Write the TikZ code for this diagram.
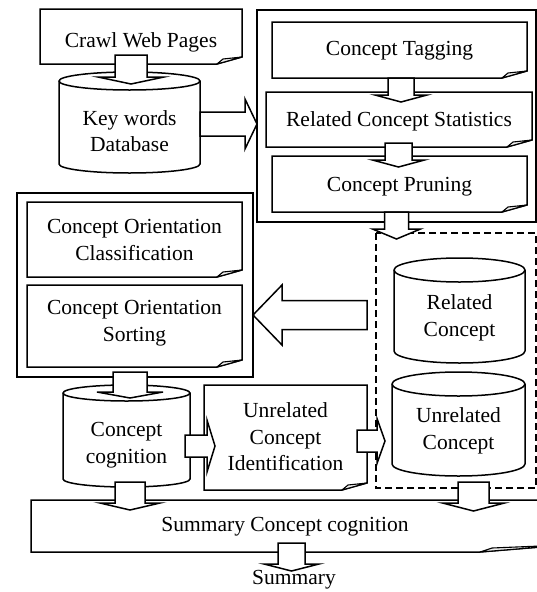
\documentclass[tikz,border=0pt]{standalone}
\usepackage{fontspec}
\setmainfont{Liberation Serif}
\tikzset{
  every node/.style={font=\fontsize{21.5}{26.5}\selectfont, align=center, inner sep=0pt},
  shp/.style={draw, fill=white, line width=1.5pt, line join=miter},
  fold/.style={draw, fill=gray!12, line width=1.1pt, line join=round},
  dashbox/.style={draw, line width=1.5pt, dash pattern=on 7pt off 4pt},
  blk/.style={draw, fill=white, line width=1.5pt, line join=miter}
}
% note box: name, x1, y1, x2, y2, text-y, text
\newcommand{\notebox}[7]{%
  \draw[shp] (#2,#3) -- (#4,#3) -- (#4,#5-7) -- (#4-25,#5) -- (#2,#5) -- cycle;
  \draw[fold] (#4-25,#5) -- (#4-19,#5-5) -- (#4,#5-7) -- cycle;
  \node (#1) at ({(#2+#4)/2},#6) {#7};
}
% cylinder: name, x1, ytop, x2, ybottom, ry, text-y, text
\newcommand{\cylbox}[8]{%
  \pgfmathsetmacro\cylcx{(#2+#4)/2}\pgfmathsetmacro\cylrx{(#4-#2)/2}%
  \draw[shp] (#2,#3+#6) -- (#2,#5-#6)
     arc[start angle=180,end angle=360,x radius=\cylrx pt,y radius=#6pt]
     -- (#4,#3+#6)
     arc[start angle=0,end angle=180,x radius=\cylrx pt,y radius=#6pt] -- cycle;
  \draw[line width=1.5pt] (#2,#3+#6) arc[start angle=180,end angle=360,x radius=\cylrx pt,y radius=#6pt];
  \node (#1) at (\cylcx,#7) {#8};
}
% block arrow down: cx, ytop, ybase, ytip, shaft half, head half
\newcommand{\blkdown}[6]{%
  \draw[blk] (#1-#5,#2) -- (#1+#5,#2) -- (#1+#5,#3) -- (#1+#6,#3) -- (#1,#4)
     -- (#1-#6,#3) -- (#1-#5,#3) -- cycle;}
% block arrow horizontal: cy, xstart, xbase, xtip, shaft half, head half
\newcommand{\blkside}[6]{%
  \draw[blk] (#2,#1-#5) -- (#3,#1-#5) -- (#3,#1-#6) -- (#4,#1) -- (#3,#1+#6)
     -- (#3,#1+#5) -- (#2,#1+#5) -- cycle;}
\begin{document}
\begin{tikzpicture}[x=1pt,y=-1pt]
\useasboundingbox (0,0) rectangle (537,592);
\clip (0,0) rectangle (537,592);
% outer containers
\draw[shp] (257,10) rectangle (536,222);
\draw[shp] (17,193) rectangle (253,377);
\draw[dashbox] (376,233) rectangle (536,488);
% summary box
\draw[shp] (31,500) -- (565,500) -- (565,545) -- (480,552) -- (31,552) -- cycle;
\draw[fold] (480,552) -- (492,548) -- (565,545) -- cycle;
\node (sumcc) at (285,527) {Summary Concept cognition};
% steps
\notebox{crawl}{40}{9}{242}{64}{42}{Crawl Web Pages}
\cylbox{kwdb}{59}{72}{200}{173}{9}{131}{Key words\\Database}
\notebox{tag}{272}{22}{527}{78}{51}{Concept Tagging}
\notebox{rcs}{266}{92}{532}{147}{121}{Related Concept Statistics}
\notebox{prune}{272}{156}{527}{212}{187}{Concept Pruning}
\cylbox{relc}{394}{258}{525}{363}{12}{318}{Related\\Concept}
\cylbox{unrc}{392}{372}{525}{476}{12}{431}{Unrelated\\Concept}
\notebox{coc}{27}{202}{242}{277}{240}{Concept Orientation\\Classification}
\notebox{cos}{27}{285}{242}{367}{323}{Concept Orientation\\Sorting}
\cylbox{ccog}{63}{385}{190}{487}{8}{445}{Concept\\cognition}
\notebox{uid}{204}{385}{367}{490}{437}{Unrelated\\Concept\\Identification}
\node (summ) at (294,580) {Summary};
% block arrows
\blkdown{131}{55}{77}{84}{16}{33}
\blkside{124}{200}{245}{257}{12}{25}
\blkdown{401}{78}{95}{102}{13}{26}
\blkdown{398.5}{143}{160}{167}{13.5}{26}
\blkdown{396.5}{212}{229}{239}{12}{24}
\blkside{315}{367}{282}{253}{14.5}{30}
\blkdown{130}{372}{392}{398}{17}{33}
\blkside{446}{185}{207}{215}{11}{26}
\blkside{441}{357}{377}{385}{11}{22.5}
\blkdown{130}{482}{503}{510}{15}{30}
\blkdown{473.5}{482}{503}{511}{15.5}{31}
\blkdown{291.5}{543}{564}{571}{13.5}{27.5}
\end{tikzpicture}
\end{document}
